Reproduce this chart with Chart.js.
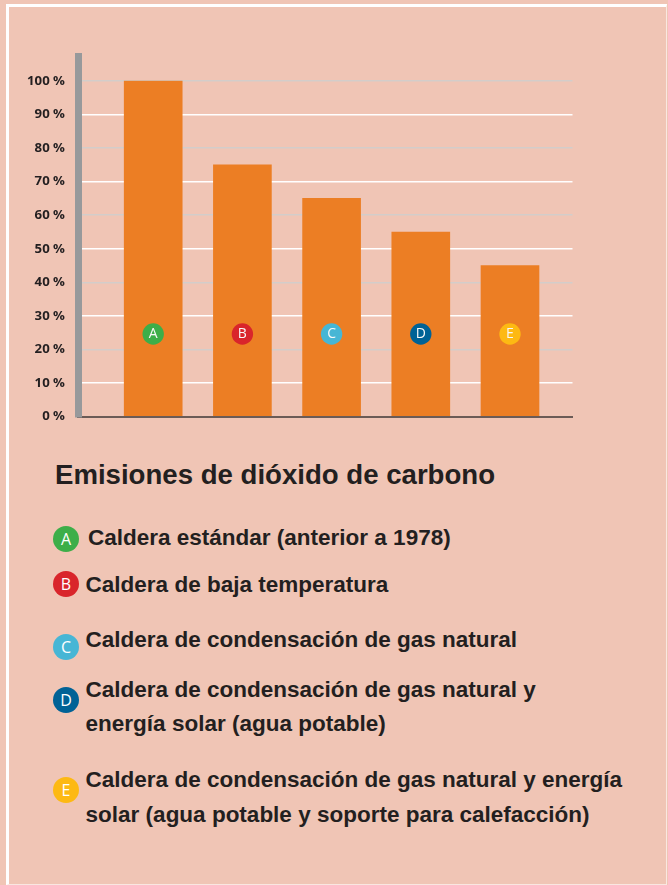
<!DOCTYPE html>
<html lang="es">
<head>
<meta charset="utf-8">
<title>Emisiones de dióxido de carbono</title>
<script src="https://cdn.jsdelivr.net/npm/chart.js@4.4.1/dist/chart.umd.min.js"></script>
<style>
    html, body { margin: 0; padding: 0; }
    body {
        width: 668px;
        height: 885px;
        background: #f0c5b5;
        position: relative;
        overflow: hidden;
        font-family: "Liberation Sans", Arial, sans-serif;
        color: #231f20;
    }
    .frame {
        position: absolute;
        left: 6px; top: 4px; right: 1px; bottom: 0;
        border-top: 3px solid #fff;
        border-left: 3px solid #fff;
        border-right: 1px solid rgba(255, 255, 255, 0.6);
        border-bottom: 1px solid rgba(255, 255, 255, 0.6);
    }
    .chart-wrap { position: absolute; left: 0; top: 0; width: 668px; height: 440px; }
    .title {
        position: absolute;
        left: 55px; top: 459.2px;
        font-size: 27.6px; line-height: 32px; font-weight: bold;
        white-space: nowrap;
    }
    .item {
        position: absolute;
        font-size: 22.5px; line-height: 34.5px; font-weight: bold;
        white-space: pre-line;
    }
    .dot {
        position: absolute;
        width: 26px; height: 26px; border-radius: 50%;
        color: #fff;
        font-family: "Open Sans", sans-serif;
        font-size: 16px; line-height: 26px;
        text-align: center;
    }
</style>
</head>
<body>
<div class="frame"></div>
<div class="chart-wrap"><canvas id="co2Chart" width="668" height="440"></canvas></div>
<div class="title">Emisiones de dióxido de carbono</div>
<div id="legend"></div>

<script>
// --- Data ---
const categories = ['A', 'B', 'C', 'D', 'E'];
const emissions = [100, 75, 65, 55, 45];
const yTickValues = [0, 10, 20, 30, 40, 50, 60, 70, 80, 90, 100];
const descriptions = [
    'Caldera estándar (anterior a 1978)',
    'Caldera de baja temperatura',
    'Caldera de condensación de gas natural',
    'Caldera de condensación de gas natural y\nenergía solar (agua potable)',
    'Caldera de condensación de gas natural y energía\nsolar (agua potable y soporte para calefacción)'
];

// --- Styles / layout ---
const markerColors = ['#3dae49', '#d9252b', '#47b6d5', '#006296', '#fdb913'];
const markerLevel = 24.6;   // height (in %) where the letter badges sit
const legendLayout = [
    { top: 520.7, left: 88,   dotY: 539.3 },
    { top: 568.3, left: 85.6, dotY: 584 },
    { top: 622.7, left: 85.6, dotY: 646.7 },
    { top: 672.7, left: 85.6, dotY: 700 },
    { top: 763.3, left: 85.6, dotY: 790 }
];

document.addEventListener('DOMContentLoaded', () => {
    // --- Legend below the chart ---
    const legend = document.getElementById('legend');
    categories.forEach((letter, i) => {
        const pos = legendLayout[i];
        const dot = document.createElement('div');
        dot.className = 'dot';
        dot.style.background = markerColors[i];
        dot.style.left = (66 - 13) + 'px';
        dot.style.top = (pos.dotY - 13) + 'px';
        dot.textContent = letter;
        legend.appendChild(dot);

        const item = document.createElement('div');
        item.className = 'item';
        item.style.left = pos.left + 'px';
        item.style.top = pos.top + 'px';
        item.textContent = descriptions[i];
        legend.appendChild(item);
    });

    // --- Letters inside the badges ---
    const markerLetters = {
        id: 'markerLetters',
        afterDatasetsDraw(chart) {
            const meta = chart.getDatasetMeta(0);
            const ctx = chart.ctx;
            ctx.save();
            ctx.font = '14px "Open Sans"';
            ctx.fillStyle = '#f8f8f8';
            ctx.textAlign = 'center';
            ctx.textBaseline = 'middle';
            meta.data.forEach((pt, i) => ctx.fillText(categories[i], pt.x, pt.y + 0.5));
            ctx.restore();
        }
    };

    const ctx = document.getElementById('co2Chart').getContext('2d');
    new Chart(ctx, {
        type: 'bar',
        data: {
            datasets: [
                {
                    type: 'line',
                    label: 'markers',
                    data: categories.map((c, i) => ({ x: i, y: markerLevel })),
                    showLine: false,
                    pointRadius: 10.7,
                    pointBorderWidth: 0,
                    pointBackgroundColor: markerColors,
                    order: 0
                },
                {
                    label: 'Emisiones',
                    data: emissions.map((v, i) => ({ x: i, y: v })),
                    backgroundColor: '#ec7e24',
                    barThickness: 58,
                    order: 1
                }
            ]
        },
        options: {
            responsive: false,
            animation: false,
            events: [],
            layout: { padding: { left: 0, right: 95.5, top: 56, bottom: 23.5 } },
            scales: {
                x: {
                    type: 'linear',
                    offset: false,
                    min: -0.843,
                    max: 4.7007,
                    ticks: { display: false },
                    grid: { display: false, drawTicks: false },
                    border: { display: true, color: '#6b5b56', width: 2 },
                    afterFit: (scale) => { scale.height = 0; }
                },
                y: {
                    min: 0,
                    max: 107.45,
                    afterBuildTicks: (axis) => {
                        axis.ticks = yTickValues.map(v => ({ value: v }));
                    },
                    afterFit: (scale) => { scale.width = 78; },
                    ticks: {
                        padding: 13,
                        color: '#231f20',
                        font: { family: '"Open Sans"', size: 13.2, weight: 'bold' },
                        callback: (v) => v + ' %'
                    },
                    grid: {
                        drawTicks: false,
                        lineWidth: 1.5,
                        color: (c) => {
                            if (!c.tick || c.tick.value === 0) return 'rgba(0,0,0,0)';
                            return c.tick.value % 20 === 0 ? '#d3cdca' : '#ffffff';
                        }
                    },
                    border: { display: true, color: '#97999b', width: 7 }
                }
            },
            plugins: {
                legend: { display: false },
                tooltip: { enabled: false }
            }
        },
        plugins: [markerLetters]
    });
});
</script>
</body>
</html>
